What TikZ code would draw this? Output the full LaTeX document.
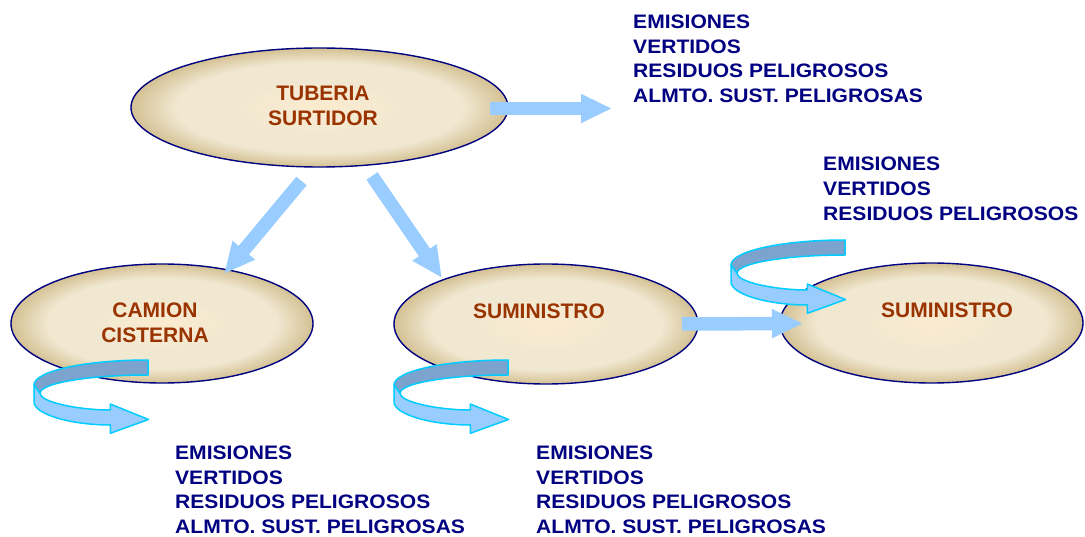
\documentclass[tikz,border=0pt]{standalone}
\usepackage{fontspec}
\setmainfont{Liberation Sans}
\newfontfamily\blufont[FakeStretch=1.08]{Liberation Sans Bold}
\usetikzlibrary{shapes.geometric,arrows.meta}
\definecolor{navy}{HTML}{000080}
\definecolor{brn}{HTML}{993300}
\definecolor{arrowblue}{HTML}{99CCFF}
\definecolor{backblue}{HTML}{7BA3CE}
\definecolor{cyanline}{HTML}{00CCFF}
\definecolor{cream}{HTML}{FBEBCF}
\definecolor{creammid}{HTML}{F1E8D2}
\definecolor{tanedge}{HTML}{D4C193}
\pgfdeclareradialshading{ellshade}{\pgfpoint{0bp}{0bp}}{color(0bp)=(cream); color(12bp)=(creammid); color(19bp)=(creammid); color(25bp)=(tanedge); color(50bp)=(tanedge)}
\begin{document}
\begin{tikzpicture}[x=1pt,y=-1pt,
  oval/.style={ellipse, draw=navy, line width=1.4pt, shading=ellshade, inner sep=0pt},
  otext/.style={font=\fontsize{21}{25}\selectfont\bfseries, text=brn, align=center, inner sep=0pt},
  btext/.style={font=\blufont\fontsize{19.5}{24.8}\selectfont, text=navy, align=left, anchor=north west, inner sep=0pt},
  bigarrow/.style={draw=arrowblue, line width=13.5pt, -{Triangle[length=31pt,width=27pt]}},
  ribbon/.style={draw=cyanline, line width=1.5pt, line join=round},
  curl/.pic={
    \path[ribbon, fill=backblue] (0,0) .. controls (-63,0) and (-114,11.2) .. (-114,25)
      -- (-108,33.3) .. controls (-108,23.2) and (-59.6,15) .. (0,15) -- cycle;
    \path[ribbon, fill=arrowblue] (-114,25) -- (-114,41.7)
      .. controls (-114,55) and (-75,65) .. (-37.7,65) -- (-37.7,73.3) -- (0.5,59.5)
      -- (-37.7,44) -- (-37.7,50) .. controls (-70,50) and (-108,42) .. (-108,33.3) -- cycle;
  }
]
\useasboundingbox (0,0) rectangle (1085,537);

% ellipses
\node[oval, minimum width=377pt, minimum height=119pt] (tub) at (319.5,107.5) {};
\node[oval, minimum width=302pt, minimum height=119pt] (cam) at (162,323.5) {};
\node[oval, minimum width=304pt, minimum height=120pt] (sum1) at (546,324) {};
\node[oval, minimum width=303pt, minimum height=120pt] (sum2) at (931.5,323) {};

\node[otext] (tubt) at (323,106) {TUBERIA\\SURTIDOR};
\node[otext] (camt) at (155,323) {CAMION\\CISTERNA};
\node[otext] (sum1t) at (539,311) {SUMINISTRO};
\node[otext] (sum2t) at (947,310) {SUMINISTRO};

% straight arrows
\coordinate (aAs) at (490,108.5); \coordinate (aAe) at (612,108.5);
\coordinate (aBs) at (301.5,181); \coordinate (aBe) at (224,274);
\coordinate (aCs) at (372,176);   \coordinate (aCe) at (442,278);
\coordinate (aDs) at (682,324);   \coordinate (aDe) at (803,323.5);
\draw[bigarrow] (aAs) -- (aAe);
\draw[bigarrow] (aBs) -- (aBe);
\draw[bigarrow] (aCs) -- (aCe);
\draw[bigarrow] (aDs) -- (aDe);

% curled arrows
\pic (c1) at (148,360) {curl};
\pic (c2) at (508,360) {curl};
\pic (c3) at (845,240) {curl};

% text blocks
\node[btext] (t1) at (633,14.5) {EMISIONES\\VERTIDOS\\RESIDUOS PELIGROSOS\\ALMTO. SUST. PELIGROSAS};
\node[btext] (t2) at (823,157) {EMISIONES\\VERTIDOS\\RESIDUOS PELIGROSOS};
\node[btext] (t3) at (175,445.5) {EMISIONES\\VERTIDOS\\RESIDUOS PELIGROSOS\\ALMTO. SUST. PELIGROSAS};
\node[btext] (t4) at (536,445.5) {EMISIONES\\VERTIDOS\\RESIDUOS PELIGROSOS\\ALMTO. SUST. PELIGROSAS};
\end{tikzpicture}
\end{document}
